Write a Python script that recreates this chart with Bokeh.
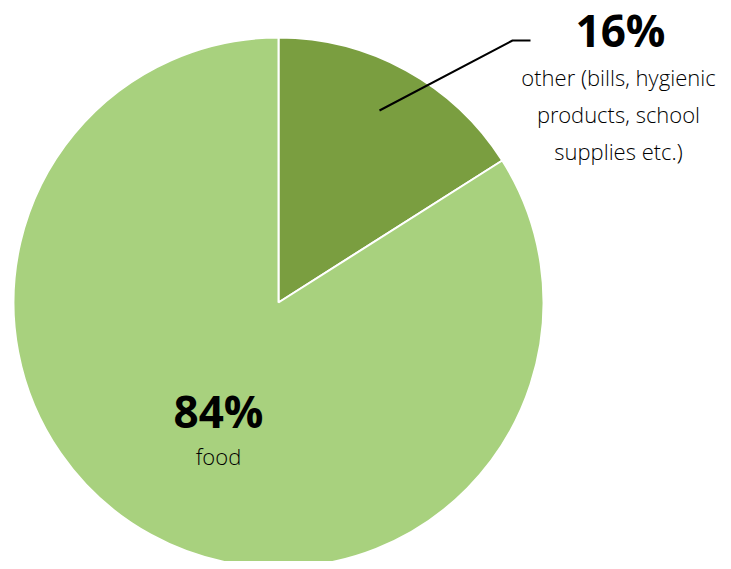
import math
from bokeh.plotting import figure
from bokeh.models import Range1d
from bokeh.core.properties import value
from bokeh.embed import file_html
from bokeh.resources import INLINE

# Data
categories = ["other", "food"]
shares = [16, 84]
pct_labels = ["16%", "84%"]
other_desc = ["other (bills, hygienic", "products, school", "supplies etc.)"]
food_desc = ["food"]
colors = ["#7a9e40", "#a8d17e"]

W, H = 723, 561
p = figure(width=W, height=H, output_backend="svg", toolbar_location=None,
           x_range=Range1d(0, W), y_range=Range1d(0, H),
           min_border=0, outline_line_color=None)
p.axis.visible = False
p.grid.visible = False
p.background_fill_color = "white"
p.border_fill_color = "white"

def Y(page_y):
    return H - page_y

cx, cy, r = 278, Y(302), 265
total = sum(shares)
start = math.pi / 2
starts, ends = [], []
for s in shares:
    end = start - 2 * math.pi * s / total
    starts.append(start)
    ends.append(end)
    start = end

p.wedge(x=[cx] * len(shares), y=[cy] * len(shares), radius=r,
        start_angle=starts, end_angle=ends, direction="clock",
        fill_color=colors, line_color="white", line_width=2)

# leader line
p.line(x=[379, 512, 530], y=[Y(110), Y(40), Y(40)], line_color="black", line_width=2)

bold_font = value("Open Sans")
light_font = value("Open Sans Light")
p.text(x=[620], y=[Y(29)], text=[pct_labels[0]], text_font=bold_font, text_font_style="bold",
       text_font_size="44px", text_align="center", text_baseline="middle", text_color="black")
p.text(x=[618] * 3, y=[Y(76), Y(113), Y(150)], text=other_desc, text_font=light_font,
       text_font_size="22px", text_align="center", text_baseline="middle", text_color="black")
p.text(x=[218], y=[Y(410)], text=[pct_labels[1]], text_font=bold_font, text_font_style="bold",
       text_font_size="44px", text_align="center", text_baseline="middle", text_color="black")
p.text(x=[218], y=[Y(455)], text=food_desc, text_font=light_font,
       text_font_size="22px", text_align="center", text_baseline="middle", text_color="black")

open("out.html", "w").write(file_html(p, INLINE))
